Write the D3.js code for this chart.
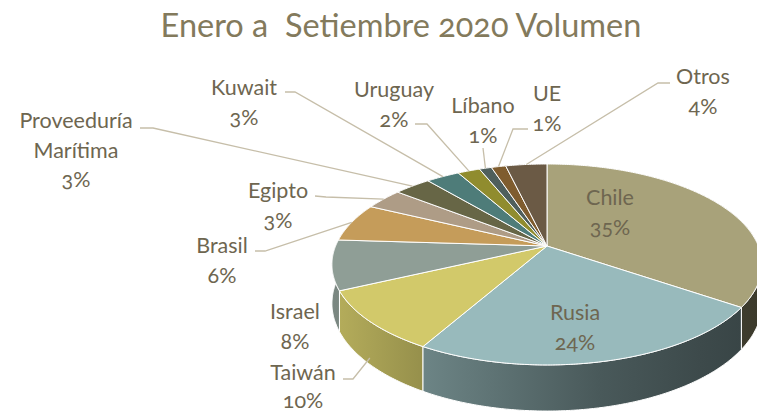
<!DOCTYPE html>
<html>
<head>
<meta charset="utf-8">
<script src="https://cdn.jsdelivr.net/npm/d3@7"></script>
<style>
  body { margin: 0; background: #fff; }
  svg text { font-family: Lato, "Open Sans", sans-serif; font-variant-numeric: oldstyle-nums; }
</style>
</head>
<body>
<svg id="chart" width="757" height="414"></svg>
<script>
var title = 'Enero a  Setiembre 2020 Volumen'
var countries = ['Chile', 'Rusia', 'Taiwán', 'Israel', 'Brasil', 'Egipto',
  'Proveeduría Marítima', 'Kuwait', 'Uruguay', 'Líbano', 'UE', 'Otros']
var shares = [34.6, 23.6, 9.8, 8.0, 6.2, 3.4, 3.3, 3.0, 2.0, 1.1, 1.3, 3.7]
var colors = ['#a8a27a', '#98babc', '#d2c96a', '#8f9e96', '#c59c5a', '#ae9c86',
  '#676646', '#4e7c79', '#908c2e', '#4f5f5c', '#7f5c2e', '#6b5a45']

// where each label sits (first baseline) and the bent part of its leader line
var labelLayout = [
  { x: 610, y: 205 },
  { x: 575, y: 320 },
  { x: 303, y: 380, lh: 28, stub: [[343, 379], [353, 379]], drop: 0.85 },
  { x: 295, y: 319 },
  { x: 222, y: 253, stub: [[255, 251], [265, 251]] },
  { x: 278, y: 198, stub: [[315, 196], [326, 197]] },
  { x: 76, y: 128, stub: [[140, 128], [153, 128]] },
  { x: 244, y: 95, stub: [[285, 92], [295, 92]] },
  { x: 394, y: 97, stub: [[415, 124], [427, 124]] },
  { x: 483, y: 113, stub: [[483, 148]] },
  { x: 547, y: 101, stub: [[528, 129], [513, 129]] },
  { x: 703, y: 84, stub: [[670, 83], [658, 83]] }
]

var svg = d3.select('#chart')
var textColor = '#6e6650'
var lineHeight = 29.5

// perspective of the tilted disc
var cx = 547, cy = 246
var f = 1150, D = 5.44, H = 2.498, depth = 0.178

function project (angle, r, h) {
  var u = r * Math.sin(angle)
  var v = r * Math.cos(angle)
  var z = D + v
  return [cx + f * u / z, cy + f * (H - h) / z - f * H / D]
}

function arcPoints (a0, a1, h) {
  var n = Math.max(2, Math.ceil(Math.abs(a1 - a0) / 0.01))
  return d3.range(n + 1).map(function (i) {
    return project(a0 + (a1 - a0) * i / n, 1, h)
  })
}

var line = d3.line()

var total = d3.sum(shares)
var slices = d3.pie().sort(null).value(function (d) { return d })(shares)

// wall shading from left (light) to right (dark)
var shade = d3.scaleLinear()
  .domain([330, 425, 600, 700, 760])
  .range([0.87, 0.71, 0.48, 0.40, 0.36])

var defs = svg.append('defs')
slices.forEach(function (s, i) {
  var g = defs.append('linearGradient')
    .attr('id', 'wall' + i)
    .attr('gradientUnits', 'userSpaceOnUse')
    .attr('x1', 330).attr('x2', 760).attr('y1', 0).attr('y2', 0)
  shade.domain().forEach(function (x) {
    g.append('stop')
      .attr('offset', (x - 330) / 430)
      .attr('stop-color', d3.interpolateRgb('#000', colors[i])(shade(x)))
  })
})

// title
svg.append('text')
  .attr('x', 401)
  .attr('y', 37)
  .attr('text-anchor', 'middle')
  .attr('fill', '#837a5c')
  .style('font-size', '32.5px')
  .style('white-space', 'pre')
  .text(title)

// side walls, far ones first
var wallOrder = slices.map(function (s, i) { return i })
  .sort(function (a, b) {
    var ma = (slices[a].startAngle + slices[a].endAngle) / 2
    var mb = (slices[b].startAngle + slices[b].endAngle) / 2
    return Math.cos(mb) - Math.cos(ma)
  })

svg.append('g').selectAll('path')
  .data(wallOrder)
  .enter()
  .append('path')
  .attr('d', function (i) {
    var s = slices[i]
    var top = arcPoints(s.startAngle, s.endAngle, 0)
    var bottom = arcPoints(s.endAngle, s.startAngle, -depth)
    return line(top.concat(bottom)) + 'Z'
  })
  .attr('fill', function (i) { return 'url(#wall' + i + ')' })
  .attr('stroke', '#fff')
  .attr('stroke-width', 1)
  .attr('stroke-linejoin', 'round')

// top faces
svg.append('g').selectAll('path')
  .data(slices)
  .enter()
  .append('path')
  .attr('d', function (s) {
    var pts = [project(0, 0, 0)].concat(arcPoints(s.startAngle, s.endAngle, 0))
    return line(pts) + 'Z'
  })
  .attr('fill', function (s, i) { return colors[i] })
  .attr('stroke', '#fff')
  .attr('stroke-width', 1)
  .attr('stroke-linejoin', 'round')

// leader lines
svg.append('g').selectAll('path')
  .data(slices.filter(function (s, i) { return labelLayout[i].stub }))
  .enter()
  .append('path')
  .attr('d', function (s) {
    var lay = labelLayout[s.index]
    var mid = (s.startAngle + s.endAngle) / 2
    var end = project(mid, 1, -depth * (lay.drop || 0))
    return line(lay.stub.concat([end]))
  })
  .attr('fill', 'none')
  .attr('stroke', '#c6bea9')
  .attr('stroke-width', 1.3)

// labels
var labels = svg.append('g').selectAll('text')
  .data(slices)
  .enter()
  .append('text')
  .attr('text-anchor', 'middle')
  .attr('fill', textColor)
  .style('font-size', '21.5px')
  .attr('y', function (s) { return labelLayout[s.index].y })

labels.each(function (s) {
  var lay = labelLayout[s.index]
  var lines = countries[s.index].split(' ')
    .concat([Math.round(s.data / total * 100) + '%'])
  d3.select(this).selectAll('tspan')
    .data(lines)
    .enter()
    .append('tspan')
    .attr('x', lay.x)
    .attr('dy', function (d, k) { return k === 0 ? 0 : (lay.lh || lineHeight) })
    .text(function (d) { return d })
})
</script>
</body>
</html>
